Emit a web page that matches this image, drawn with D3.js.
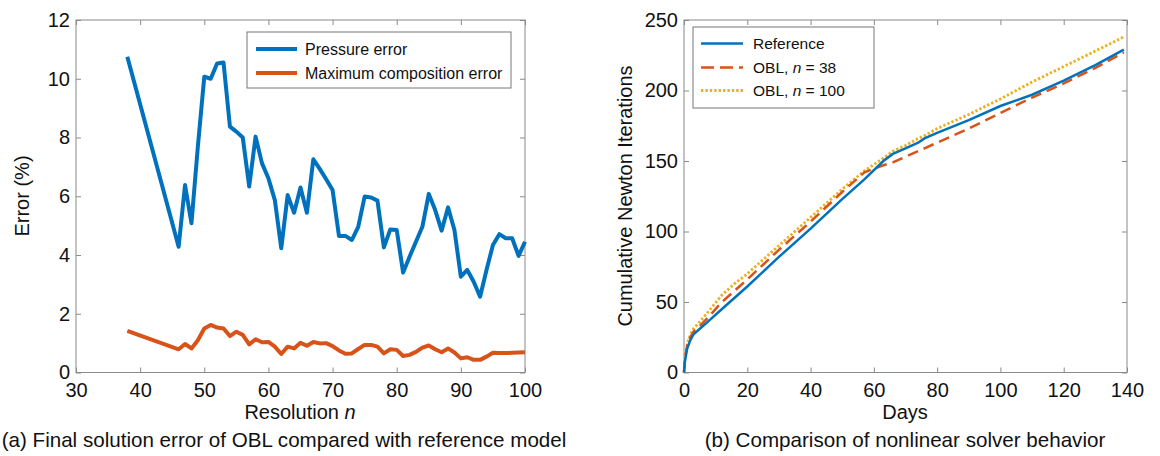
<!DOCTYPE html>
<html>
<head>
<meta charset="utf-8">
<script src="https://cdn.jsdelivr.net/npm/d3@7"></script>
<style>
  html, body { margin: 0; padding: 0; background: #fff; }
  svg { display: block; font-family: "Liberation Sans", Arial, Helvetica, sans-serif; }
  .tick text { fill: #111; }
</style>
</head>
<body>
<svg id="fig" width="1160" height="456"></svg>
<script>
// ---- Panel (a): error vs. OBL resolution ----
const resolution = [38, 46, 47, 48, 49, 50, 51, 52, 53, 54, 55, 56, 57, 58, 59, 60, 61, 62, 63, 64,
  65, 66, 67, 68, 69, 70, 71, 72, 73, 74, 75, 76, 77, 78, 79, 80, 81, 82, 83, 84,
  85, 86, 87, 88, 89, 90, 91, 92, 93, 94, 95, 96, 97, 98, 99, 100];
const pressureError = [10.75, 4.28, 6.38, 5.08, 7.7, 10.07, 10.0, 10.52, 10.55, 8.37, 8.2, 8.0, 6.33, 8.03, 7.12, 6.61, 5.87, 4.23, 6.04, 5.44,
  6.3, 5.44, 7.26, 6.93, 6.58, 6.21, 4.65, 4.65, 4.51, 4.96, 5.99, 5.96, 5.85, 4.26, 4.87, 4.85, 3.4, 3.94, 4.45, 4.96,
  6.08, 5.53, 4.83, 5.62, 4.85, 3.26, 3.49, 3.09, 2.58, 3.49, 4.34, 4.71, 4.57, 4.57, 3.97, 4.45];
const compositionError = [1.42, 0.79, 0.97, 0.82, 1.1, 1.5, 1.62, 1.53, 1.5, 1.24, 1.39, 1.28, 0.96, 1.13, 1.03, 1.04, 0.88, 0.63, 0.88, 0.82,
  1.01, 0.91, 1.04, 0.99, 1.0, 0.9, 0.75, 0.64, 0.65, 0.8, 0.94, 0.94, 0.88, 0.65, 0.79, 0.77, 0.56, 0.6, 0.7, 0.85,
  0.92, 0.79, 0.69, 0.82, 0.68, 0.48, 0.52, 0.43, 0.43, 0.54, 0.67, 0.66, 0.66, 0.67, 0.68, 0.69];
const resTicks = [30, 40, 50, 60, 70, 80, 90, 100];
const errTicks = [0, 2, 4, 6, 8, 10, 12];

// ---- Panel (b): cumulative Newton iterations ----
const days = [0, 0.3, 1, 2, 3, 5, 8, 12, 16, 20, 30, 40, 50, 57, 63, 66, 70, 74, 76, 80, 90, 100, 110, 120, 130, 139];
const referenceIters = [0, 8, 17, 23, 27, 31, 37, 45, 53, 61, 82, 102, 123, 137, 150, 155, 159, 163, 166, 170, 179, 189, 197, 207, 218, 229];
const obl38Iters = [0, 10, 19, 25, 29, 33, 40, 50, 58, 66, 87, 107, 128, 142, 147, 149, 153, 157, 159, 163, 173, 184, 195, 205, 216, 227];
const obl100Iters = [0, 11, 20, 27, 31, 36, 44, 55, 63, 70, 90, 110, 130, 143, 152, 157, 161, 166, 168, 173, 183, 194, 206, 217, 228, 238];
const dayTicks = [0, 20, 40, 60, 80, 100, 120, 140];
const iterTicks = [0, 50, 100, 150, 200, 250];

const BLUE = "#0072BD", ORANGE = "#D95319", YELLOW = "#EDB120";
const AXIS = "#8a8a8a";

const svg = d3.select("#fig");

function boxedAxes(g, x, y, xt, yt) {
  const [x0, x1] = x.range();
  const [y0, y1] = y.range();
  const style = sel => {
    sel.select(".domain").remove();
    sel.selectAll(".tick line").attr("stroke", AXIS);
    sel.selectAll(".tick text").attr("font-size", 20);
  };
  g.append("g").attr("transform", `translate(0,${y0})`)
    .call(d3.axisBottom(x).tickValues(xt).tickSizeInner(-5).tickSizeOuter(0).tickPadding(10).tickFormat(d3.format("d")))
    .call(style);
  g.append("g").attr("transform", `translate(0,${y1})`)
    .call(d3.axisTop(x).tickValues(xt).tickSizeInner(-5).tickSizeOuter(0).tickFormat(""))
    .call(style);
  g.append("g").attr("transform", `translate(${x0},0)`)
    .call(d3.axisLeft(y).tickValues(yt).tickSizeInner(-5).tickSizeOuter(0).tickPadding(6).tickFormat(d3.format("d")))
    .call(style);
  g.append("g").attr("transform", `translate(${x1},0)`)
    .call(d3.axisRight(y).tickValues(yt).tickSizeInner(-5).tickSizeOuter(0).tickFormat(""))
    .call(style);
  g.append("rect").attr("x", x0).attr("y", y1).attr("width", x1 - x0).attr("height", y0 - y1)
    .attr("fill", "none").attr("stroke", AXIS).attr("stroke-width", 1);
}

// ================= Panel (a) =================
const xa = d3.scaleLinear().domain([30, 100]).range([76, 525]);
const ya = d3.scaleLinear().domain([0, 12]).range([372.5, 20]);
const ga = svg.append("g");
boxedAxes(ga, xa, ya, resTicks, errTicks);

const lineA = vals => d3.line().x((d, i) => xa(resolution[i])).y(d => ya(d))(vals);
ga.append("path").attr("d", lineA(compositionError)).attr("fill", "none")
  .attr("stroke", ORANGE).attr("stroke-width", 4).attr("stroke-linejoin", "round");
ga.append("path").attr("d", lineA(pressureError)).attr("fill", "none")
  .attr("stroke", BLUE).attr("stroke-width", 4).attr("stroke-linejoin", "round");

// legend (a)
const la = ga.append("g");
la.append("rect").attr("x", 247).attr("y", 32).attr("width", 264).attr("height", 56)
  .attr("fill", "#fff").attr("stroke", "#777").attr("stroke-width", 1);
[["Pressure error", BLUE, 49], ["Maximum composition error", ORANGE, 73]].forEach(([t, c, yy]) => {
  la.append("line").attr("x1", 256).attr("x2", 297).attr("y1", yy).attr("y2", yy)
    .attr("stroke", c).attr("stroke-width", 4);
  la.append("text").attr("x", 305).attr("y", yy + 5.5).attr("font-size", 16).attr("fill", "#111").text(t);
});

// axis labels (a)
ga.append("text").attr("transform", `translate(29,196) rotate(-90)`).attr("text-anchor", "middle")
  .attr("font-size", 20).attr("fill", "#111").text("Error (%)");
const xla = ga.append("text").attr("x", 300).attr("y", 419).attr("text-anchor", "middle")
  .attr("font-size", 20).attr("fill", "#111");
xla.append("tspan").text("Resolution ");
xla.append("tspan").attr("font-style", "italic").text("n");

// ================= Panel (b) =================
const xb = d3.scaleLinear().domain([0, 140]).range([684, 1127]);
const yb = d3.scaleLinear().domain([0, 250]).range([372.5, 20]);
const gb = svg.append("g");
boxedAxes(gb, xb, yb, dayTicks, iterTicks);

const lineB = vals => d3.line().x((d, i) => xb(days[i])).y(d => yb(d))(vals);
const series = [
  { vals: obl100Iters, color: YELLOW, dash: "2.4,2", width: 2.8 },
  { vals: obl38Iters, color: ORANGE, dash: "11,6", width: 2.5 },
  { vals: referenceIters, color: BLUE, dash: null, width: 2.5 }
];
series.forEach(s => {
  gb.append("path").attr("d", lineB(s.vals)).attr("fill", "none")
    .attr("stroke", s.color).attr("stroke-width", s.width)
    .attr("stroke-dasharray", s.dash);
});

// legend (b)
const lb = gb.append("g");
lb.append("rect").attr("x", 693).attr("y", 27).attr("width", 181).attr("height", 81)
  .attr("fill", "#fff").attr("stroke", "#777").attr("stroke-width", 1);
const legB = [
  { label: ["Reference"], color: BLUE, dash: null, width: 2.5, yy: 43.5 },
  { label: ["OBL, ", "n", " = 38"], color: ORANGE, dash: "13,6", width: 2.5, yy: 67.5 },
  { label: ["OBL, ", "n", " = 100"], color: YELLOW, dash: "2.4,2", width: 2.8, yy: 90.5 }
];
legB.forEach(e => {
  lb.append("line").attr("x1", 701).attr("x2", 743).attr("y1", e.yy).attr("y2", e.yy)
    .attr("stroke", e.color).attr("stroke-width", e.width).attr("stroke-dasharray", e.dash);
  const t = lb.append("text").attr("x", 753).attr("y", e.yy + 5.5).attr("font-size", 15.5).attr("fill", "#111");
  e.label.forEach((p, i) => t.append("tspan").attr("font-style", i === 1 ? "italic" : null).text(p));
});

// axis labels (b)
gb.append("text").attr("transform", `translate(632,196) rotate(-90)`).attr("text-anchor", "middle")
  .attr("font-size", 20).attr("fill", "#111").text("Cumulative Newton Iterations");
gb.append("text").attr("x", 905).attr("y", 419).attr("text-anchor", "middle")
  .attr("font-size", 20).attr("fill", "#111").text("Days");

// captions
svg.append("text").attr("x", 284).attr("y", 447).attr("text-anchor", "middle")
  .attr("font-size", 20.6).attr("fill", "#111")
  .text("(a) Final solution error of OBL compared with reference model");
svg.append("text").attr("x", 905).attr("y", 447).attr("text-anchor", "middle")
  .attr("font-size", 20.6).attr("fill", "#111")
  .text("(b) Comparison of nonlinear solver behavior");
</script>
</body>
</html>
